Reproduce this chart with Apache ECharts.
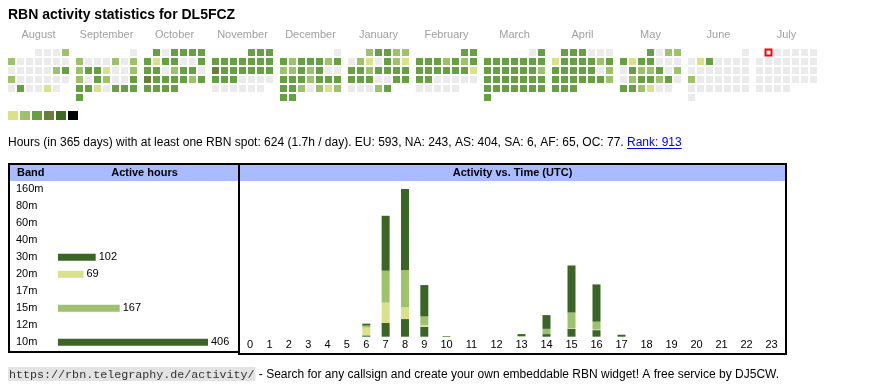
<!DOCTYPE html>
<html><head><meta charset="utf-8">
<script src="https://cdn.jsdelivr.net/npm/echarts@6/dist/echarts.min.js"></script>
<style>html,body{margin:0;padding:0;background:#fff}#c{width:870px;height:390px}</style>
</head><body><div id="c"></div>
<script>
// ---------- DATA ----------
const titleText = 'RBN activity statistics for DL5FCZ';
const months = ['2024-08','2024-09','2024-10','2024-11','2024-12','2025-01','2025-02','2025-03','2025-04','2025-05','2025-06','2025-07'];
const monthNames = ['August','September','October','November','December','January','February','March','April','May','June','July'];
// daily activity level (0 = none, 1..6 = colour level)
const aug = [0,0,0,2, 2,0,0,0,0,0,0, 0,0,0,0,0,2,3, 2,0,0,0,0,0,0, 0,3,0,0,1,0];
const sep = [0, 2,0,0,0,2,0,2, 2,3,3,1,0,0,2, 2,0,3,2,0,0,3, 3,3,1,0,3,3,3, 3];
const oct = [3,0,3,3,3,3, 3,1,3,3,0,0,3, 3,3,0,2,3,3,0, 4,3,3,3,3,2,3, 3,3,3,3];
const nov = [3,3,3, 3,3,3,3,3,3,3, 4,3,3,3,3,3,3, 3,3,3,0,0,0,0, 0,0,0,0,0,0];
const dec = [0, 3,2,3,3,3,2,3, 2,2,3,2,3,0,0, 3,3,3,2,3,3,3, 3,3,2,0,2,1,2, 3,3];
const jan = [2,3,3,2,2, 0,2,1,0,3,2,1, 3,3,2,3,3,3,3, 3,3,3,0,0,3,3, 0,0,0,2,3];
const feb = [3,3, 3,3,3,2,3,2,3, 3,3,3,3,3,3,1, 3,3,0,0,0,0,0, 0,0,0,0,0];
const mar = [0,3, 3,3,3,3,3,3,3, 3,3,3,3,3,3,2, 3,3,3,3,3,3,3, 3,3,3,3,3,3,3, 3];
const apr = [3,3,3,0,0,0, 1,3,3,3,3,2,3, 3,3,3,3,3,0,2, 3,3,3,3,3,3,2, 3,3,3];
const may = [3,0,2,2, 3,1,3,3,0,0,0, 0,3,2,2,3,0,2, 0,2,3,3,2,3,0, 3,3,2,1,0,0];
const jun = [0, 0,1,3,0,0,0,0, 0,0,0,0,0,0,0, 2,0,0,0,0,0,0, 0,0,0,0,0,0,0, 0];
const jul = [0,0,0,0,0,0, 0,0,0,0,0,0,0, 0,0,0,0,0,0,0, 0,0,0,0,0,0,0, 0,0,0,0];
const dayLevels = [aug,sep,oct,nov,dec,jan,feb,mar,apr,may,jun,jul];
const levelColors = ['#d9e18b','#9dc26b','#66a043','#6a7d3b','#3b6a26','#000000'];
const emptyColor = '#ebebeb';
const todayDate = '2025-07-01';

const statsText = 'Hours (in 365 days) with at least one RBN spot: 624 (1.7h / day). EU: 593, NA: 243, AS: 404, SA: 6, AF: 65, OC: 77. ';
const rankText = 'Rank: 913';

const bands = ['160m','80m','60m','40m','30m','20m','17m','15m','12m','10m'];
const bandHours = [0,0,0,0,102,69,0,167,0,406];
const bandColors = ['#3b6526','#3b6526','#3b6526','#3b6526','#3b6526','#d9e18b','#9dc26b','#9dc26b','#3b6526','#3b6526'];

const hourLabels = ['0','1','2','3','4','5','6','7','8','9','10','11','12','13','14','15','16','17','18','19','20','21','22','23'];
const act30m = [0,0,0,0,0,0, 2,21,27,15, 1,0,0,0, 4,12,10,3, 0,0,0,0,0,0];
const act20m = [0,0,0,0,0,0,12,31,18, 3, 0,0,0,0, 0, 1, 1,0, 0,0,0,0,0,0];
const act15m = [0,0,0,0,0,0, 3,49,57,13, 0,0,0,1, 8,24,12,0, 0,0,0,0,0,0];
const act10m = [0,0,0,0,0,0, 3,84,124,48,0,0,0,3,21,72,57,0, 0,0,0,0,0,0];
const actBands = ['30m','20m','15m','10m'];
const actSeriesData = [act30m, act20m, act15m, act10m];
const actColors = ['#3b6526','#d9e18b','#9dc26b','#3b6526'];

const footerUrl = 'https://rbn.telegraphy.de/activity/';
const footerText = ' - Search for any callsign and create your own embeddable RBN widget! A free service by DJ5CW.';

// ---------- CHART ----------
const FONT = '"Liberation Sans", Arial, Helvetica, sans-serif';
const MONO = '"Liberation Mono", "DejaVu Sans Mono", monospace';
const HEAD = '#aabbff';
const chart = echarts.init(document.getElementById('c'));

const ctx = document.createElement('canvas').getContext('2d');
function tw(t, font){ ctx.font = font; return ctx.measureText(t).width; }

const calendars = months.map((m,i)=>({
  orient:'vertical', range:m, left:7 + i*68, top:48, cellSize:[9,9],
  splitLine:{show:false}, itemStyle:{color:'rgba(0,0,0,0)', borderWidth:0, borderColor:'rgba(0,0,0,0)'},
  dayLabel:{show:false, firstDay:1}, monthLabel:{show:false}, yearLabel:{show:false}, silent:true
}));
const calSeries = months.map((m,i)=>({
  type:'scatter', coordinateSystem:'calendar', calendarIndex:i, symbol:'rect', symbolSize:7,
  silent:true, animation:false, emphasis:{disabled:true}, itemStyle:{opacity:1},
  data: dayLevels[i].map((v,d)=>({value:[m + '-' + String(d+1).padStart(2,'0'), v]}))
}));
// marker for the current day
const todayMonth = months.indexOf(todayDate.slice(0,7));
const todaySeries = {
  type:'scatter', coordinateSystem:'calendar', calendarIndex:todayMonth, symbol:'emptyRect', symbolSize:6,
  silent:true, animation:false, z:5, emphasis:{disabled:true}, color:'#ff0000',
  itemStyle:{color:'#ff0000', borderColor:'#ff0000', borderWidth:1, opacity:1},
  data:[[todayDate, 0]]
};

const actTotals = hourLabels.map((h,i)=>actSeriesData.reduce((s,a)=>s+a[i],0));
const actMax = Math.max(...actTotals);

const series = calSeries.slice();
series.push(todaySeries);
series.push({
  type:'bar', xAxisIndex:0, yAxisIndex:0, barWidth:7, silent:true, animation:false,
  data: bandHours.map((v,i)=>({value:v, itemStyle:{color:bandColors[i]}})),
  label:{show:true, position:'right', distance:3, fontSize:11, fontFamily:FONT, color:'#000',
    formatter:p=>p.value ? String(p.value) : ''}
});
[0,1].forEach(g=>{
  const sl = g===0 ? [0,10] : [10,24];
  actSeriesData.forEach((arr,b)=>{
    series.push({
      type:'bar', name:actBands[b], xAxisIndex:g+1, yAxisIndex:g+1, stack:'h'+g, barWidth:8,
      silent:true, animation:false, itemStyle:{color:actColors[b]},
      data: arr.slice(sl[0], sl[1])
    });
  });
});

const catAxis = (data, gi)=>({
  type:'category', gridIndex:gi, data, axisLine:{show:false}, axisTick:{show:false},
  axisLabel:{interval:0, margin:3, fontSize:11, fontFamily:FONT, color:'#000'}, splitLine:{show:false}
});

const statsFont = '12px ' + FONT;
const statsW = tw(statsText, statsFont);
const rankW = tw(rankText, statsFont);
const urlFont = '11.7px ' + MONO;
const urlW = tw(footerUrl, urlFont);

const graphic = [
  {type:'text', x:8, y:15.4, style:{text:titleText, fontSize:14, fontWeight:'bold', fontFamily:FONT, fill:'#000', verticalAlign:'middle'}},
  ...monthNames.map((n,i)=>({type:'text', x:38.5 + i*68, y:35, style:{text:n, fontSize:11, fontFamily:FONT, fill:'#a0a0a0', align:'center', verticalAlign:'middle'}})),
  {type:'text', x:8, y:142.5, style:{text:statsText, fontSize:12, fontFamily:FONT, fill:'#000', verticalAlign:'middle'}},
  {type:'text', x:8 + statsW, y:142.5, style:{text:rankText, fontSize:12, fontFamily:FONT, fill:'#0000ee', verticalAlign:'middle'}},
  {type:'line', shape:{x1:8 + statsW, y1:148.5, x2:8 + statsW + rankW, y2:148.5}, style:{stroke:'#0000ee', lineWidth:1}},
  {type:'rect', shape:{x:10, y:165, width:228, height:16}, style:{fill:HEAD}},
  {type:'rect', shape:{x:240, y:165, width:545, height:16}, style:{fill:HEAD}},
  {type:'rect', shape:{x:9, y:164, width:230, height:188}, style:{fill:'none', stroke:'#000', lineWidth:2}},
  {type:'rect', shape:{x:239, y:164, width:547, height:190}, style:{fill:'none', stroke:'#000', lineWidth:2}},
  {type:'text', x:17, y:173.3, style:{text:'Band', fontSize:11, fontWeight:'bold', fontFamily:FONT, fill:'#000', verticalAlign:'middle'}},
  {type:'text', x:144.5, y:173.3, style:{text:'Active hours', fontSize:11, fontWeight:'bold', fontFamily:FONT, fill:'#000', align:'center', verticalAlign:'middle'}},
  {type:'text', x:512.5, y:173.3, style:{text:'Activity vs. Time (UTC)', fontSize:11, fontWeight:'bold', fontFamily:FONT, fill:'#000', align:'center', verticalAlign:'middle'}},
  {type:'rect', shape:{x:8, y:367, width:urlW + 2, height:14}, style:{fill:'#e3e3e3'}},
  {type:'text', x:9, y:374.5, style:{text:footerUrl, fontSize:11.7, fontFamily:MONO, fill:'#333', verticalAlign:'middle'}},
  {type:'text', x:10 + urlW, y:374.5, style:{text:footerText, fontSize:12, fontFamily:FONT, fill:'#000', verticalAlign:'middle'}}
];

chart.setOption({
  backgroundColor:'#fff',
  animation:false,
  calendar: calendars,
  visualMap: {
    type:'piecewise', seriesIndex: calSeries.map((s,i)=>i), dimension:1, orient:'horizontal',
    left:8, top:111, itemWidth:10, itemHeight:9, itemGap:2, itemSymbol:'rect', showLabel:false,
    padding:0, selectedMode:false, hoverLink:false, text:null,
    pieces: levelColors.map((c,i)=>({value:i+1, color:c})),
    outOfRange:{color:emptyColor}
  },
  grid:[
    {left:58, top:180.8, width:150, height:170},
    {left:240.5, top:189, width:193.5, height:147.7},
    {left:434, top:189, width:350, height:147.7}
  ],
  xAxis:[
    {type:'value', gridIndex:0, min:0, max:Math.max(...bandHours), show:false},
    catAxis(hourLabels.slice(0,10), 1),
    catAxis(hourLabels.slice(10), 2)
  ],
  yAxis:[
    {type:'category', gridIndex:0, data:bands, inverse:true, axisLine:{show:false}, axisTick:{show:false},
      axisLabel:{align:'left', margin:42, fontSize:11, fontFamily:FONT, color:'#000'}, splitLine:{show:false}},
    {type:'value', gridIndex:1, min:0, max:actMax, show:false},
    {type:'value', gridIndex:2, min:0, max:actMax, show:false}
  ],
  graphic: graphic,
  series: series
});
</script></body></html>
